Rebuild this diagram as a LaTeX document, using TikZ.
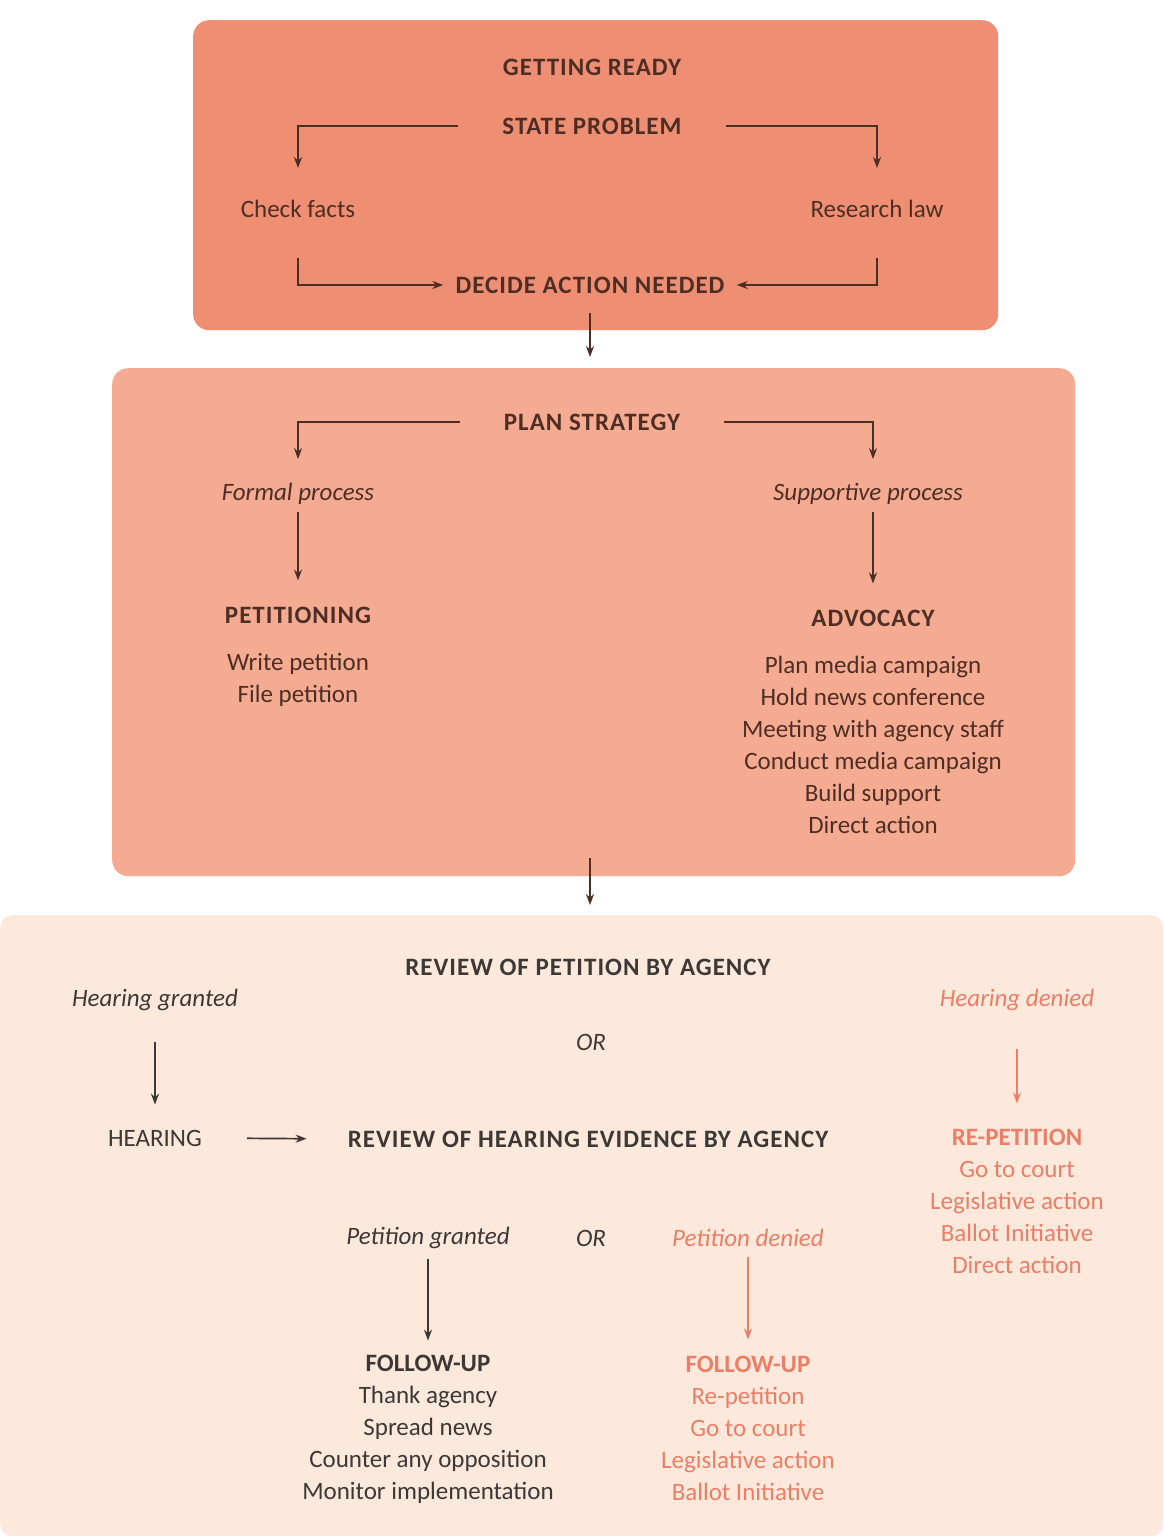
\documentclass[tikz,border=0pt]{standalone}
\usepackage{fontspec}
\setmainfont{Carlito}
\usetikzlibrary{arrows.meta}
\definecolor{boxa}{HTML}{EE8F74}
\definecolor{boxb}{HTML}{F5AB91}
\definecolor{boxc}{HTML}{FDE9DC}
\definecolor{dbrown}{HTML}{4E2E24}
\definecolor{dgray}{HTML}{3C3836}
\definecolor{rtext}{HTML}{EA7E67}
\newcommand{\hdfont}{\fontsize{25}{32}\selectfont\bfseries\addfontfeature{LetterSpace=4}}
\begin{document}
\begin{tikzpicture}[x=1pt,y=-1pt,
  panel/.style={draw=none, rounded corners=16pt, anchor=north west, inner sep=0pt},
  txt/.style={font=\fontsize{25}{32}\selectfont, inner sep=2pt, align=center, text=dbrown},
  hd/.style={txt, font=\hdfont},
  itl/.style={txt, font=\fontsize{25}{32}\selectfont\itshape},
  arr/.style={draw=dbrown, line width=1.7pt, -{Stealth[length=11pt,width=8pt]}},
  gtxt/.style={text=dgray},
  rtxt/.style={text=rtext},
  garr/.style={arr, draw=dgray},
  rarr/.style={arr, draw=rtext},
]
\useasboundingbox (0,0) rectangle (1163,1536);
\fill[white] (0,0) rectangle (1163,1536);

% panels
\node[panel, fill=boxa, minimum width=805pt, minimum height=310pt] (B1) at (193,20) {};
\node[panel, fill=boxb, minimum width=963pt, minimum height=508pt] (B2) at (112,368) {};
\node[panel, fill=boxc, rounded corners=12pt, minimum width=1163pt, minimum height=621pt] (B3) at (0,915) {};

% ---- Getting ready
\node[hd] (ready) at (592,67) {GETTING READY};
\node[hd] (state) at (592,126) {STATE PROBLEM};
\node[txt] (check) at (298,209) {Check facts};
\node[txt] (research) at (877,209) {Research law};
\node[hd] (decide) at (590,285) {DECIDE ACTION NEEDED};

\draw[arr, shorten <=42pt, shorten >=30pt] (state.west) -| (check.north);
\draw[arr, shorten <=42pt, shorten >=30pt] (state.east) -| (research.north);
\draw[arr, shorten <=38pt, shorten >=10pt] (check.south) |- (decide.west);
\draw[arr, shorten <=38pt, shorten >=10pt] (research.south) |- (decide.east);
\draw[arr, shorten <=18pt, shorten >=11pt] (decide.south) -- (decide.south |- B2.north);

% ---- Plan strategy
\node[hd] (plan) at (592,422) {PLAN STRATEGY};
\node[itl] (formal) at (298,494) {Formal process};
\node[itl] (supportive) at (868,494) {Supportive process};
\node[hd] (petitioning) at (298,615) {PETITIONING};
\node[hd] (advocacy) at (873,618) {ADVOCACY};
\node[txt] (petlist) at (298,680) {Write petition\\File petition};
\node[txt] (advlist) at (873,745) {Plan media campaign\\Hold news conference\\Meeting with agency staff\\Conduct media campaign\\Build support\\Direct action};

\draw[arr, shorten <=42pt, shorten >=22pt] (plan.west) -| (formal.north);
\draw[arr, shorten <=42pt, shorten >=22pt] (plan.east) -| (supportive.north -| advocacy.north);
\draw[arr, shorten <=5pt, shorten >=24pt] (formal.south) -- (petitioning.north);
\draw[arr, shorten <=5pt, shorten >=24pt] (supportive.south -| advocacy.north) -- (advocacy.north);
\draw[arr, shorten <=-18pt, shorten >=10pt] (B2.south -| decide.south) -- (B3.north -| decide.south);

% ---- Review
\node[hd, gtxt] (review) at (588,967) {REVIEW OF PETITION BY AGENCY};
\node[itl, gtxt] (hgranted) at (155,1000) {Hearing granted};
\node[itl, rtxt] (hdenied) at (1017,1000) {Hearing denied};
\node[itl, gtxt] (or1) at (591,1042) {OR};
\node[txt, gtxt] (hearing) at (155,1138) {HEARING};
\node[hd, gtxt] (review2) at (588,1139) {REVIEW OF HEARING EVIDENCE BY AGENCY};
\node[txt, rtxt] (repet) at (1017,1201) {\textbf{RE-PETITION}\\Go to court\\Legislative action\\Ballot Initiative\\Direct action};
\node[itl, gtxt] (pgranted) at (428,1238) {Petition granted};
\node[itl, gtxt] (or2) at (591,1238) {OR};
\node[itl, rtxt] (pdenied) at (748,1238) {Petition denied};
\node[txt, gtxt] (fuA) at (428,1429) {\textbf{FOLLOW-UP}\\Thank agency\\Spread news\\Counter any opposition\\Monitor implementation};
\node[txt, rtxt] (fuB) at (748,1428) {\textbf{FOLLOW-UP}\\Re-petition\\Go to court\\Legislative action\\Ballot Initiative};

\draw[garr, shorten <=29pt, shorten >=23pt] (hgranted.south) -- (hearing.north);
\draw[garr, shorten <=43pt, shorten >=39pt] (hearing.east) -- (review2.west);
\draw[rarr, shorten <=36pt, shorten >=23pt] (hdenied.south) -- (repet.north);
\draw[garr, shorten <=8pt, shorten >=12pt] (pgranted.south) -- (fuA.north);
\draw[rarr, shorten <=8pt, shorten >=14pt] (pdenied.south) -- (fuB.north);
\end{tikzpicture}
\end{document}
